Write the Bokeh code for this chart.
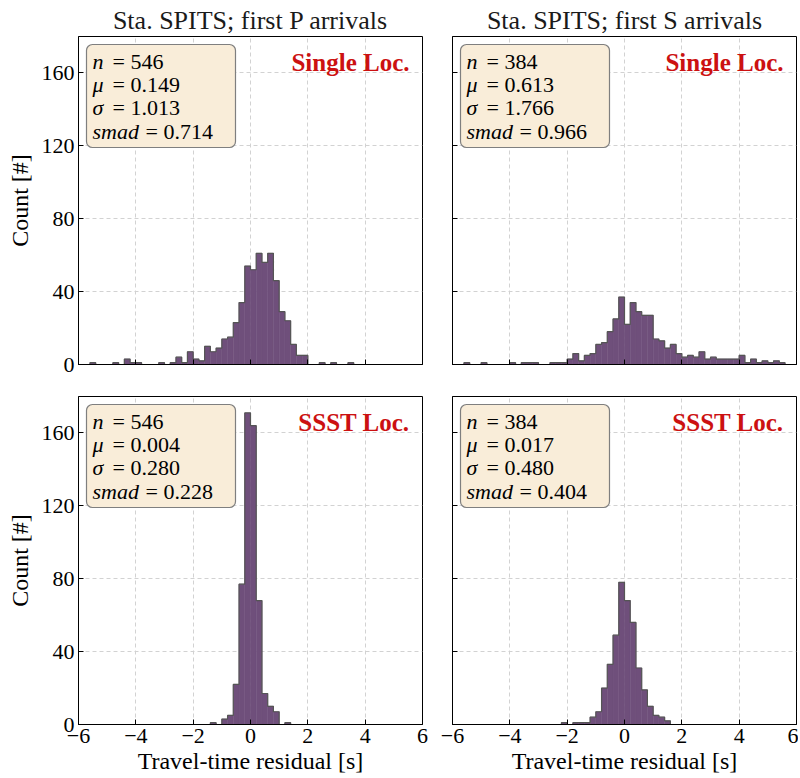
import numpy as np
from bokeh.plotting import figure
from bokeh.models import (FixedTicker, Label, BoxAnnotation, Range1d,
                          CustomJSTickFormatter)
from bokeh.layouts import column, row
from bokeh.embed import file_html
from bokeh.resources import INLINE

# ---------------- data ----------------
bin_start = -6.0
bin_width = 0.2
n_bins = 60

counts_p_single = [0, 0, 1, 0, 0, 0, 1, 0, 3, 1,
                   1, 0, 0, 0, 1, 0, 1, 4, 1, 7,
                   3, 2, 10, 7, 9, 14, 15, 23, 34, 54,
                   52, 61, 56, 61, 46, 29, 24, 11, 5, 5,
                   0, 0, 1, 0, 1, 0, 0, 1, 0, 0,
                   0, 0, 0, 0, 0, 0, 0, 0, 0, 0]
counts_s_single = [0, 0, 1, 0, 0, 1, 0, 0, 0, 0,
                   1, 0, 1, 1, 1, 0, 0, 1, 1, 1,
                   3, 6, 2, 5, 6, 11, 12, 18, 25, 37,
                   22, 34, 29, 27, 27, 14, 13, 9, 11, 6,
                   4, 5, 4, 7, 3, 4, 3, 3, 3, 3,
                   5, 1, 3, 1, 2, 1, 2, 1, 0, 0]
counts_p_ssst = [0, 0, 0, 0, 0, 0, 0, 0, 0, 0,
                 0, 0, 0, 0, 0, 0, 0, 0, 0, 0,
                 0, 0, 0, 1, 0, 3, 5, 22, 77, 171,
                 164, 68, 17, 10, 7, 0, 1, 0, 0, 0,
                 0, 0, 0, 0, 0, 0, 0, 0, 0, 0,
                 0, 0, 0, 0, 0, 0, 0, 0, 0, 0]
counts_s_ssst = [0, 0, 0, 0, 0, 0, 0, 0, 0, 0,
                 0, 0, 0, 0, 0, 0, 0, 0, 0, 1,
                 0, 1, 1, 1, 4, 7, 20, 33, 49, 78,
                 68, 56, 31, 19, 10, 5, 4, 2, 0, 0,
                 0, 0, 0, 0, 0, 0, 0, 0, 0, 0,
                 0, 0, 0, 0, 0, 0, 0, 0, 0, 0]

titles = ["Sta. SPITS; first P arrivals", "Sta. SPITS; first S arrivals"]
method_labels = ["Single Loc.", "Single Loc.", "SSST Loc.", "SSST Loc."]
stat_n = [546, 384, 546, 384]
stat_mu = [0.149, 0.613, 0.004, 0.017]
stat_sigma = [1.013, 1.766, 0.280, 0.480]
stat_smad = [0.714, 0.966, 0.228, 0.404]

x_ticks = [-6, -4, -2, 0, 2, 4, 6]
y_ticks = [0, 40, 80, 120, 160]
x_label = "Travel-time residual [s]"
y_label = "Count [#]"

# ---------------- style ----------------
FONT = "Liberation Serif"
BAR = "#6f4f7b"
EDGE = "#555555"
BOX_FILL = "#f9edd9"
RED = "#cc1111"
FRAME_W = 344
FRAME_H = 328

minus_fmt = CustomJSTickFormatter(
    code="return tick < 0 ? '\\u2212' + Math.abs(tick) : String(tick);")


def panel(idx, counts, left_col, top_row):
    mb_left = 78 if left_col else 22
    mb_right = 8 if left_col else 2
    mb_top = 36 if top_row else 16
    mb_bottom = 16 if top_row else 52
    p = figure(width=mb_left + FRAME_W + mb_right,
               height=mb_top + FRAME_H + mb_bottom,
               x_range=Range1d(-6, 6), y_range=Range1d(0, 180),
               output_backend="svg", toolbar_location=None, tools="",
               min_border_left=mb_left, min_border_right=mb_right,
               min_border_top=mb_top, min_border_bottom=mb_bottom,
               title=titles[0 if left_col else 1] if top_row else None)
    p.background_fill_color = "white"
    p.border_fill_color = "white"
    p.outline_line_color = "black"
    p.outline_line_width = 1
    p.outline_line_alpha = 1

    if top_row:
        p.title.text_font = FONT
        p.title.text_font_size = "26px"
        p.title.text_font_style = "normal"
        p.title.text_color = "#1a1a1a"
        p.title.align = "center"
        p.title.standoff = 3

    edges = bin_start + bin_width * np.arange(n_bins + 1)
    p.quad(left=edges[:-1], right=edges[1:], top=counts, bottom=0,
           fill_color=BAR, line_color=BAR, line_width=0.5)
    p.step(x=edges, y=list(counts) + [0], mode="after",
           line_color=EDGE, line_width=1.2)

    for ax in (p.xaxis[0], p.yaxis[0]):
        ax.axis_line_color = "black"
        ax.axis_line_width = 1
        ax.major_tick_in = 5
        ax.major_tick_out = 0
        ax.major_tick_line_color = "black"
        ax.minor_tick_line_color = None
        ax.major_label_text_font = FONT
        ax.major_label_text_font_size = "22px"
        ax.major_label_text_color = "black"
        ax.major_label_standoff = 4
        ax.axis_label_text_font = FONT
        ax.axis_label_text_font_size = "24px"
        ax.axis_label_text_font_style = "normal"
        ax.axis_label_text_color = "black"
        ax.axis_label_standoff = 2
    p.yaxis.axis_label_standoff = 6
    p.xaxis.ticker = FixedTicker(ticks=x_ticks)
    p.yaxis.ticker = FixedTicker(ticks=y_ticks)
    p.xaxis.formatter = minus_fmt
    if top_row:
        p.xaxis.major_label_text_font_size = "0px"
        p.xaxis.major_label_text_color = None
        p.xaxis.major_label_standoff = 0
    else:
        p.xaxis.axis_label = x_label
    if left_col:
        p.yaxis.axis_label = y_label
    else:
        p.yaxis.major_label_text_font_size = "0px"
        p.yaxis.major_label_text_color = None
        p.yaxis.major_label_standoff = 0

    p.xgrid.ticker = FixedTicker(ticks=x_ticks)
    p.ygrid.ticker = FixedTicker(ticks=y_ticks)
    for g in (p.xgrid[0], p.ygrid[0]):
        g.grid_line_color = "#d2d2d2"
        g.grid_line_dash = "4 3"
        g.grid_line_width = 1

    # stats box
    p.add_layout(BoxAnnotation(left=8, right=157, top=FRAME_H - 8,
                               bottom=FRAME_H - 111,
                               left_units="screen", right_units="screen",
                               top_units="screen", bottom_units="screen",
                               fill_color=BOX_FILL, fill_alpha=1,
                               line_color="#7f7f7f", line_alpha=1,
                               line_width=1.2, border_radius=6))
    rows = [("n", f"= {stat_n[idx]}", 34),
            ("\u03bc", f"= {stat_mu[idx]:.3f}", 34),
            ("\u03c3", f"= {stat_sigma[idx]:.3f}", 34),
            ("smad", f"= {stat_smad[idx]:.3f}", 67)]
    for r, (var, val, xeq) in enumerate(rows):
        yc = FRAME_H - (24.5 + 23.4 * r)
        p.add_layout(Label(x=14, y=yc, x_units="screen", y_units="screen",
                           text=var, text_font=FONT, text_font_size="22px",
                           text_font_style="italic", text_color="black",
                           text_baseline="middle", text_align="left"))
        p.add_layout(Label(x=xeq, y=yc, x_units="screen", y_units="screen",
                           text=val, text_font=FONT, text_font_size="22px",
                           text_color="black",
                           text_baseline="middle", text_align="left"))
    p.add_layout(Label(x=FRAME_W - 13, y=FRAME_H - 26,
                       x_units="screen", y_units="screen",
                       text=method_labels[idx], text_font=FONT,
                       text_font_size="25px", text_font_style="bold",
                       text_color=RED, text_baseline="middle",
                       text_align="right"))
    return p


p1 = panel(0, counts_p_single, True, True)
p2 = panel(1, counts_s_single, False, True)
p3 = panel(2, counts_p_ssst, True, False)
p4 = panel(3, counts_s_ssst, False, False)

layout = column(row(p1, p2), row(p3, p4))
open("out.html", "w").write(file_html(layout, INLINE))
